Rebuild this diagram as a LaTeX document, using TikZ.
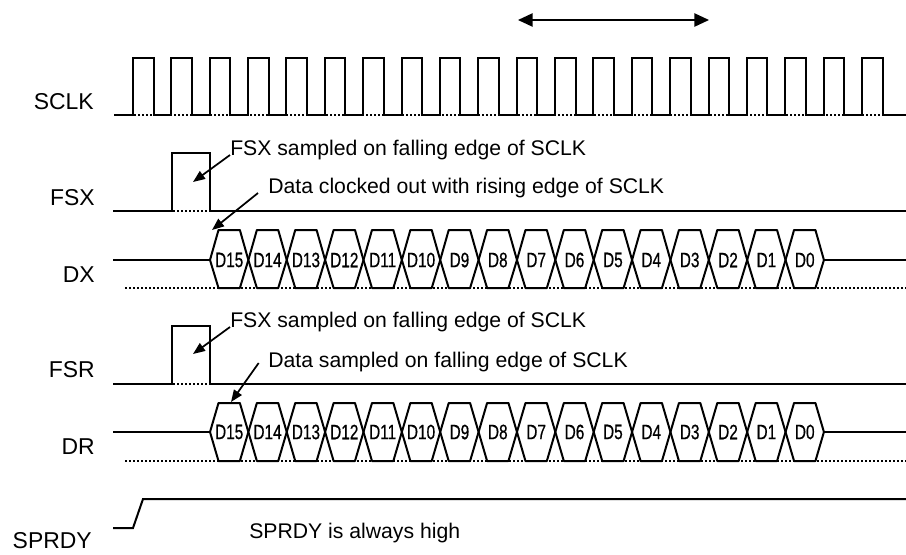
\documentclass[tikz,border=0pt]{standalone}
\usepackage{fontspec}
\setmainfont{Liberation Sans}
\newfontfamily\bitfont[FakeStretch=0.74,FakeBold=0.6]{Liberation Sans}
\usetikzlibrary{arrows.meta}

\tikzset{
  wave/.style={line width=1.5pt},
  hexwave/.style={line width=1.5pt, line join=round},
  ground/.style={line width=1.2pt, dash pattern=on 1.5pt off 1.5pt},
  signame/.style={anchor=base east, inner sep=0pt, font=\fontsize{17.2}{20}\selectfont},
  remark/.style={anchor=base west, inner sep=0pt, font=\fontsize{15.9}{19}\selectfont},
  bitname/.style={inner sep=0pt, font=\bitfont\fontsize{15.6}{18}\selectfont},
  pointer/.style={line width=1.3pt, -{Triangle[length=9pt,width=7pt]}}
}

\begin{document}
\begin{tikzpicture}[x=0.75pt, y=-0.75pt]
\useasboundingbox (0,0) rectangle (906,554);

% Window arrow above the clock
\coordinate (winL) at (518,20);
\coordinate (winR) at (709,20);
\draw[line width=1.1pt, {Triangle[length=11pt,width=10pt]}-{Triangle[length=11pt,width=10pt]}] (winL) -- (winR);

% SCLK
\node[signame] (sclk) at (94,109) {SCLK};
\draw[ground] (114,115) -- (906,115);
\draw[wave] (114,115) \foreach \i in {0,...,19} {
  -- ({133+\i*38.37},115) -- ({133+\i*38.37},58)
  -- ({153.5+\i*38.37},58) -- ({153.5+\i*38.37},115)} -- (906,115);

% FSX
\node[signame] (fsx) at (95,205) {FSX};
\draw[ground] (113,211) -- (906,211);
\draw[wave] (113,211) -- (172,211) -- (172,153) -- (210,153) -- (210,211) -- (906,211);

% DX
\node[signame] (dx) at (95,282) {DX};
\draw[ground] (125,288) -- (906,288);
\draw[wave] (113,260) -- (210,260);
\foreach \i in {0,...,15} {
  \pgfmathsetmacro\xa{210+\i*38.37}
  \pgfmathsetmacro\xb{\xa+38.37}
  \pgfmathtruncatemacro\bit{15-\i}
  \draw[hexwave] (\xa,260) -- ({\xa+8.5},230) -- ({\xb-8.5},230) -- (\xb,260)
    -- ({\xb-8.5},288) -- ({\xa+8.5},288) -- cycle;
  \node[bitname] (dx\bit) at ({\xa+19.2},260) {D\bit};
}
\draw[wave] (825,260) -- (906,260);

% FSR
\node[signame] (fsr) at (95,377) {FSR};
\draw[ground] (113,384) -- (906,384);
\draw[wave] (113,384) -- (172,384) -- (172,326) -- (210,326) -- (210,384) -- (906,384);

% DR
\node[signame] (dr) at (95,454) {DR};
\draw[ground] (125,461) -- (906,461);
\draw[wave] (113,432) -- (210,432);
\foreach \i in {0,...,15} {
  \pgfmathsetmacro\xa{210+\i*38.37}
  \pgfmathsetmacro\xb{\xa+38.37}
  \pgfmathtruncatemacro\bit{15-\i}
  \draw[hexwave] (\xa,432) -- ({\xa+8.5},403) -- ({\xb-8.5},403) -- (\xb,432)
    -- ({\xb-8.5},461) -- ({\xa+8.5},461) -- cycle;
  \node[bitname] (dr\bit) at ({\xa+19.2},432) {D\bit};
}
\draw[wave] (825,432) -- (906,432);

% SPRDY
\node[signame] (sprdy) at (92,548) {SPRDY};
\draw[wave] (113,528) -- (133,528) -- (143,499) -- (906,499);

% Remarks with their pointers
\node[remark] (fsxnote) at (230,155) {FSX sampled on falling edge of SCLK};
\coordinate (fsxtip) at (193,182);
\draw[pointer] (fsxnote.base west) -- (fsxtip);

\node[remark] (dxnote) at (268,193) {Data clocked out with rising edge of SCLK};
\coordinate (dxtip) at (212,230);
\draw[pointer] ([xshift=-7.5pt]dxnote.base west) -- (dxtip);

\node[remark] (fsrnote) at (230,327) {FSX sampled on falling edge of SCLK};
\coordinate (fsrtip) at (193,354);
\draw[pointer] (fsrnote.base west) -- (fsrtip);

\node[remark] (drnote) at (268,367) {Data sampled on falling edge of SCLK};
\coordinate (drtip) at (231,402);
\draw[pointer] ([xshift=-7pt,yshift=3pt]drnote.base west) -- (drtip);

\node[remark] (sprdynote) at (249,538) {SPRDY is always high};

\end{tikzpicture}
\end{document}
